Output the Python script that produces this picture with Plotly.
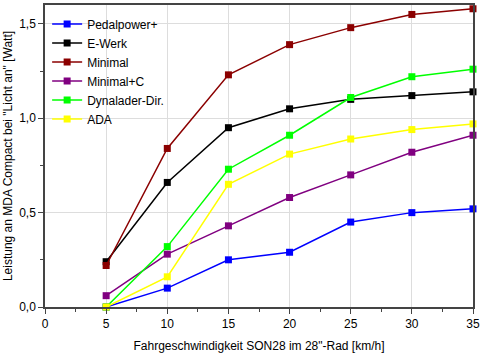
import plotly.graph_objects as go

speeds = [5, 10, 15, 20, 25, 30, 35]
pedalpower = [0.0, 0.10, 0.25, 0.29, 0.45, 0.50, 0.52]
ewerk = [0.24, 0.66, 0.95, 1.05, 1.10, 1.12, 1.14]
minimal = [0.22, 0.84, 1.23, 1.39, 1.48, 1.55, 1.58]
minimal_c = [0.06, 0.28, 0.43, 0.58, 0.70, 0.82, 0.91]
dynalader = [0.0, 0.32, 0.73, 0.91, 1.11, 1.22, 1.26]
ada = [0.0, 0.16, 0.65, 0.81, 0.89, 0.94, 0.97]

series = [
    ("Pedalpower+", pedalpower, "#0000FF"),
    ("E-Werk", ewerk, "#000000"),
    ("Minimal", minimal, "#8B0000"),
    ("Minimal+C", minimal_c, "#800080"),
    ("Dynalader-Dir.", dynalader, "#00FF00"),
    ("ADA", ada, "#FFFF00"),
]

fig = go.Figure()
for name, vals, col in series:
    fig.add_trace(go.Scatter(
        x=speeds, y=vals, name=name, mode="lines+markers",
        line=dict(color=col, width=1.5),
        marker=dict(symbol="square", size=7, color=col),
        cliponaxis=False,
    ))

axis_col = "#444444"
fig.update_layout(
    width=485, height=353,
    margin=dict(l=45, r=12, t=5, b=46),
    paper_bgcolor="white", plot_bgcolor="white",
    separators=",.",
    font=dict(family="Liberation Sans, Arial, sans-serif", size=12, color="#000000"),
    showlegend=True,
    legend=dict(x=0.005, y=0.985, xanchor="left", yanchor="top",
                bgcolor="rgba(0,0,0,0)", font=dict(size=12),
                tracegroupgap=0, itemwidth=30),
    xaxis=dict(
        range=[0, 35], dtick=5, tick0=0, automargin=False,
        showgrid=True, gridcolor="#DDDDDD", gridwidth=1,
        showline=True, linecolor=axis_col, linewidth=1.5, mirror=True,
        ticks="outside", ticklen=5, tickcolor=axis_col, tickwidth=1,
        minor=dict(dtick=2.5, ticks="outside", ticklen=3, tickcolor=axis_col, showgrid=False),
        zeroline=False,
        title=dict(text='Fahrgeschwindigkeit SON28 im 28"-Rad [km/h]', standoff=12,
                   font=dict(size=12)),
        tickfont=dict(size=12),
    ),
    yaxis=dict(
        range=[0, 1.6], dtick=0.5, tick0=0, tickformat=".1f", automargin=False,
        showgrid=True, gridcolor="#DDDDDD", gridwidth=1,
        showline=True, linecolor=axis_col, linewidth=1.5, mirror=True,
        ticks="outside", ticklen=5, tickcolor=axis_col, tickwidth=1,
        minor=dict(dtick=0.25, ticks="outside", ticklen=3, tickcolor=axis_col, showgrid=False),
        zeroline=False,
        title=dict(text='Leistung an MDA Compact bei "Licht an" [Watt]', standoff=4,
                   font=dict(size=12)),
        tickfont=dict(size=12),
    ),
    xaxis2=dict(
        overlaying="x", side="top", anchor="y", range=[0, 35], dtick=2.5, tick0=0,
        showticklabels=False, showgrid=False, showline=False, zeroline=False,
        ticks="inside", ticklen=5, tickcolor=axis_col, tickwidth=1,
    ),
    yaxis2=dict(
        overlaying="y", side="right", anchor="x", range=[0, 1.6], dtick=0.25, tick0=0,
        showticklabels=False, showgrid=False, showline=False, zeroline=False,
        ticks="inside", ticklen=5, tickcolor=axis_col, tickwidth=1,
    ),
)

fig.write_html("out.html")
